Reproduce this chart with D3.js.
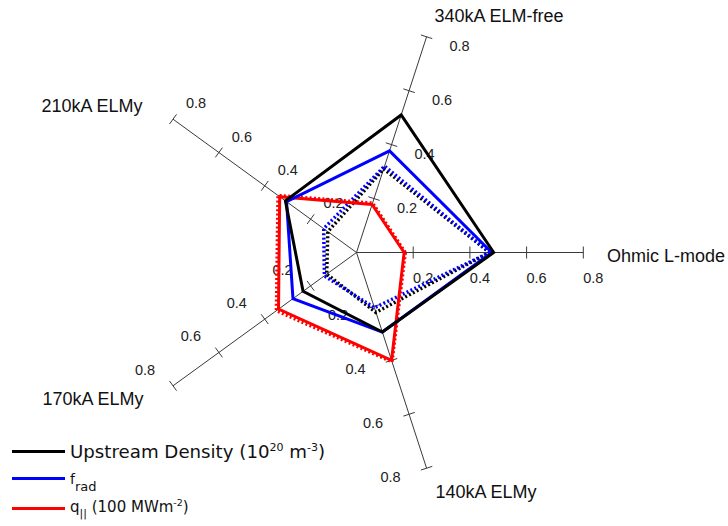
<!DOCTYPE html>
<html>
<head>
<meta charset="utf-8">
<script src="https://cdn.jsdelivr.net/npm/d3@7"></script>
<style>
  body { margin: 0; background: #fff; }
  svg { display: block; }
</style>
</head>
<body>
<svg id="chart" width="728" height="526"></svg>
<script>
// Regimes around the radar, counter-clockwise from the right
const categories = ["Ohmic L-mode", "340kA ELM-free", "210kA ELMy", "170kA ELMy", "140kA ELMy"];
const tickValues = [0.2, 0.4, 0.6, 0.8];
const tickLabels = ["0.2", "0.4", "0.6", "0.8"];

// Solid profiles
const densitySolid = [0.484, 0.51, 0.31, 0.233, 0.295];
const fradSolid    = [0.477, 0.377, 0.305, 0.277, 0.295];
const qparSolid    = [0.168, 0.178, 0.335, 0.34, 0.40];
// Dotted profiles
const densityDotted = [0.47, 0.31, 0.125, 0.13, 0.222];
const fradDotted    = [0.47, 0.32, 0.143, 0.14, 0.205];
const qparDotted    = [0.172, 0.183, 0.342, 0.349, 0.405];

const legendNames = ["Upstream Density", "f", "q"];

const svg = d3.select("#chart");
const cx = 356.5, cy = 252.5;
const rScale = d3.scaleLinear().domain([0, 0.8]).range([0, 226.8]);
const theta = d3.scaleLinear().domain([0, categories.length]).range([0, 2 * Math.PI]);

const pt = (i, v) => [cx + rScale(v) * Math.cos(theta(i)), cy - rScale(v) * Math.sin(theta(i))];

// Axis spokes with tick marks
const axes = svg.append("g").attr("class", "axes");
categories.forEach((c, i) => {
  const [x1, y1] = pt(i, 0.8);
  axes.append("line")
    .attr("x1", cx).attr("y1", cy).attr("x2", x1).attr("y2", y1)
    .attr("stroke", "#3a3a3a").attr("stroke-width", 1);
  const a = theta(i);
  const px = Math.sin(a), py = Math.cos(a);
  tickValues.forEach(v => {
    const [tx, ty] = pt(i, v);
    axes.append("line")
      .attr("x1", tx - px * 6).attr("y1", ty - py * 6)
      .attr("x2", tx + px * 6).attr("y2", ty + py * 6)
      .attr("stroke", "#3a3a3a").attr("stroke-width", 1);
  });
});

// Tick label placement beside each spoke
const tickShift = [[10, 25], [33, 9], [23, -16], [-28, -16], [-36, 9]];
const tickText = svg.append("g")
  .attr("font-family", "'Liberation Sans', Arial, sans-serif")
  .attr("font-size", 14.5)
  .attr("fill", "#222");
categories.forEach((c, i) => {
  tickValues.forEach((v, k) => {
    const [tx, ty] = pt(i, v);
    tickText.append("text")
      .attr("x", tx + tickShift[i][0])
      .attr("y", ty + tickShift[i][1] + 5)
      .attr("text-anchor", "middle")
      .text(tickLabels[k]);
  });
});

// Category titles
const catPos = [
  { x: 607, y: 262, anchor: "start" },
  { x: 499, y: 22, anchor: "middle" },
  { x: 92, y: 112, anchor: "middle" },
  { x: 93, y: 405, anchor: "middle" },
  { x: 486, y: 498, anchor: "middle" }
];
svg.append("g")
  .attr("font-family", "'Liberation Sans', Arial, sans-serif")
  .attr("font-size", 18)
  .attr("fill", "#111")
  .selectAll("text").data(categories).join("text")
  .attr("x", (d, i) => catPos[i].x)
  .attr("y", (d, i) => catPos[i].y)
  .attr("text-anchor", (d, i) => catPos[i].anchor)
  .text(d => d);

// Profiles
const radial = d3.lineRadial()
  .angle((d, i) => Math.PI / 2 - theta(i))
  .radius(d => rScale(d))
  .curve(d3.curveLinearClosed);

const series = [
  { values: densityDotted, color: "#000000", dotted: true },
  { values: fradDotted,    color: "#0000ff", dotted: true },
  { values: qparDotted,    color: "#ff0000", dotted: true },
  { values: qparSolid,     color: "#ff0000", dotted: false },
  { values: fradSolid,     color: "#0000ff", dotted: false },
  { values: densitySolid,  color: "#000000", dotted: false }
];
const plot = svg.append("g").attr("transform", `translate(${cx},${cy})`);
plot.selectAll("path").data(series).join("path")
  .attr("d", d => radial(d.values))
  .attr("fill", "none")
  .attr("stroke", d => d.color)
  .attr("stroke-width", d => d.dotted ? 3.5 : 3)
  .attr("stroke-dasharray", d => d.dotted ? "2,2.3" : null)
  .attr("stroke-linejoin", "miter");

// Legend
const legend = svg.append("g")
  .attr("font-family", "'DejaVu Sans', Verdana, sans-serif")
  .attr("fill", "#111");
const legendColors = ["#000000", "#0000ff", "#ff0000"];
const legendY = [451.5, 478.5, 508.5];
legendColors.forEach((col, i) => {
  legend.append("line")
    .attr("x1", 12).attr("x2", 65)
    .attr("y1", legendY[i]).attr("y2", legendY[i])
    .attr("stroke", col).attr("stroke-width", 3);
});
const t0 = legend.append("text").attr("x", 70).attr("y", 457.5).attr("font-size", 18.2);
t0.append("tspan").text(legendNames[0] + " (10");
t0.append("tspan").attr("font-size", 11).attr("dy", -7).text("20");
t0.append("tspan").attr("dy", 7).text(" m");
t0.append("tspan").attr("font-size", 11).attr("dy", -7).text("-3");
t0.append("tspan").attr("dy", 7).text(")");

const t1 = legend.append("text").attr("x", 70).attr("y", 483.5).attr("font-size", 14);
t1.append("tspan").text(legendNames[1]);
t1.append("tspan").attr("font-size", 13).attr("dy", 7).text("rad");

const t2 = legend.append("text").attr("x", 70).attr("y", 512).attr("font-size", 15);
t2.append("tspan").text(legendNames[2]);
t2.append("tspan").attr("font-size", 11).attr("dy", 5).text("||");
t2.append("tspan").attr("dy", -5).text(" (100 MWm");
t2.append("tspan").attr("font-size", 9.5).attr("dy", -6).text("-2");
t2.append("tspan").attr("dy", 6).text(")");
</script>
</body>
</html>
